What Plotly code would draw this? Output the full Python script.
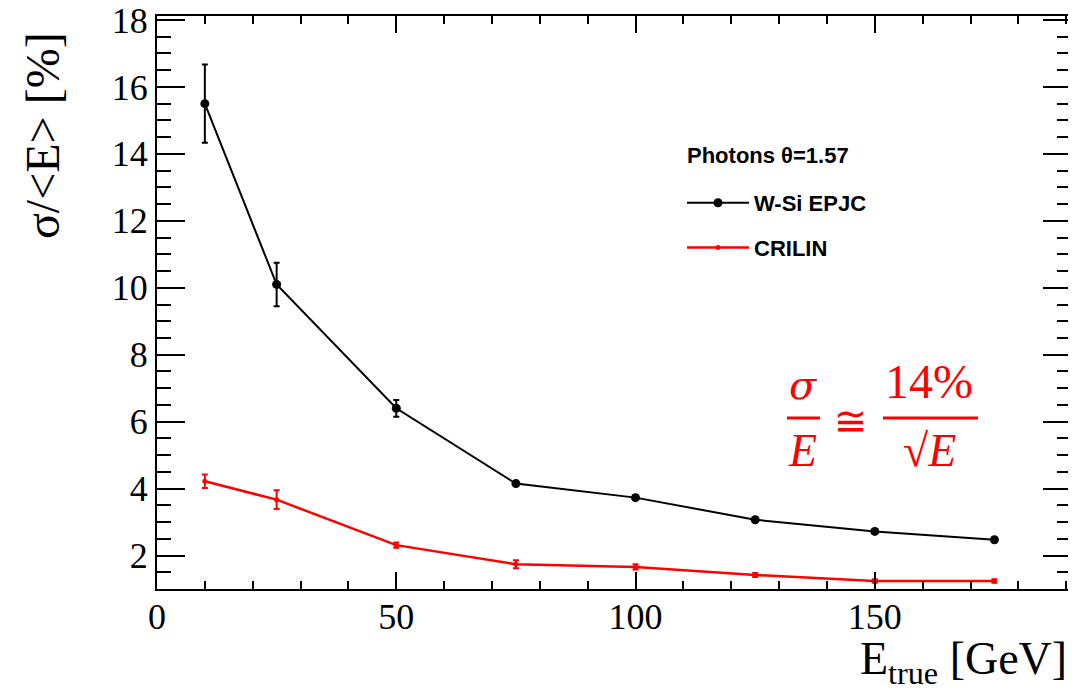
import plotly.graph_objects as go

# ---------------- data ----------------
energy = [10, 25, 50, 75, 100, 125, 150, 175]
wsi_res = [15.5, 10.1, 6.4, 4.15, 3.73, 3.07, 2.72, 2.47]
wsi_err = [1.17, 0.65, 0.25, 0.06, 0.06, 0.05, 0.05, 0.05]
crilin_res = [4.22, 3.67, 2.31, 1.74, 1.66, 1.42, 1.24, 1.24]
crilin_err = [0.20, 0.28, 0.08, 0.12, 0.08, 0.06, 0.05, 0.05]

x_tickvals = [0, 50, 100, 150]
y_tickvals = [2, 4, 6, 8, 10, 12, 14, 16, 18]

# page offset (browser body margin) compensation
OFF = 8
W, H = 1076 - OFF, 694 - OFF
# plot-area edges in page pixels
L, R, T, B = 157, 1071, 16, 589


def px(x):
    return (x - L) / (R - L)


def py(y):
    return (B - y) / (B - T)


fig = go.Figure()
fig.add_trace(go.Scatter(
    x=energy, y=wsi_res, mode="lines+markers", name="W-Si EPJC",
    legendgroup="a",
    line=dict(color="black", width=2),
    marker=dict(color="black", size=9),
    error_y=dict(type="data", array=wsi_err, color="black", thickness=2, width=3),
))
fig.add_trace(go.Scatter(
    x=energy, y=crilin_res, mode="lines+markers", name="CRILIN",
    legendgroup="b",
    line=dict(color="#ff0000", width=2.5),
    marker=dict(color="#ff0000", size=5),
    error_y=dict(type="data", array=crilin_err, color="#ff0000", thickness=2, width=3),
))

tickfont = dict(family="Liberation Serif", size=36, color="black")

fig.update_xaxes(
    range=[0, 191], tickvals=x_tickvals, ticktext=[str(v) for v in x_tickvals],
    ticks="inside", ticklen=17, tickwidth=2, tickcolor="black",
    minor=dict(dtick=10, tick0=0, ticks="inside", ticklen=8, tickwidth=2, tickcolor="black"),
    showline=True, linecolor="black", linewidth=2, mirror="allticks",
    showgrid=False, zeroline=False, tickfont=tickfont, automargin=False,
    ticklabelstandoff=-5, ticklabeloverflow="allow",
)
fig.update_yaxes(
    range=[1.0, 18.12], tickvals=y_tickvals, ticktext=[str(v) for v in y_tickvals],
    ticks="inside", ticklen=28, tickwidth=2, tickcolor="black",
    minor=dict(dtick=0.5, tick0=0, ticks="inside", ticklen=14, tickwidth=2, tickcolor="black"),
    showline=True, linecolor="black", linewidth=2, mirror="allticks",
    showgrid=False, zeroline=False, tickfont=tickfont, automargin=False,
    ticklabeloverflow="allow",
)

annotations = [
    # y axis title
    dict(text="σ/&lt;E&gt; [%]", x=px(42), y=py(136), xref="paper", yref="paper",
         textangle=-90, showarrow=False, xanchor="center", yanchor="middle",
         font=dict(family="Liberation Serif", size=48, color="black")),
    # x axis title
    dict(text="E<sub>true</sub> [GeV]", x=px(1069), y=py(662), xref="paper", yref="paper",
         showarrow=False, xanchor="right", yanchor="middle",
         font=dict(family="Liberation Serif", size=46, color="black")),
    # legend header
    dict(text="<b>Photons θ=1.57</b>", x=px(685), y=py(155), xref="paper", yref="paper",
         showarrow=False, xanchor="left", yanchor="middle",
         font=dict(family="Liberation Sans", size=22, color="black")),
    # formula
    dict(text="<i>σ</i>", x=px(803), y=py(385), xref="paper", yref="paper",
         showarrow=False, xanchor="center", yanchor="middle",
         font=dict(family="DejaVu Serif", size=40, color="#ff0000")),
    dict(text="<i>E</i>", x=px(802), y=py(450), xref="paper", yref="paper",
         showarrow=False, xanchor="center", yanchor="middle",
         font=dict(family="Liberation Serif", size=46, color="#ff0000")),
    dict(text="≅", x=px(851), y=py(421), xref="paper", yref="paper",
         showarrow=False, xanchor="center", yanchor="middle",
         font=dict(family="DejaVu Sans", size=40, color="#ff0000")),
    dict(text="14%", x=px(929), y=py(381), xref="paper", yref="paper",
         showarrow=False, xanchor="center", yanchor="middle",
         font=dict(family="Liberation Serif", size=48, color="#ff0000")),
    dict(text="√<i>E</i>", x=px(929), y=py(450), xref="paper", yref="paper",
         showarrow=False, xanchor="center", yanchor="middle",
         font=dict(family="Liberation Serif", size=46, color="#ff0000")),
]

shapes = [
    dict(type="line", xref="paper", yref="paper", x0=px(787), x1=px(820), y0=py(418), y1=py(418),
         line=dict(color="#ff0000", width=3)),
    dict(type="line", xref="paper", yref="paper", x0=px(883), x1=px(978), y0=py(418), y1=py(418),
         line=dict(color="#ff0000", width=3)),
]

fig.update_layout(
    width=W, height=H,
    margin=dict(l=L - OFF, r=(1076 - R), t=T - OFF, b=(694 - B), pad=0, autoexpand=False),
    paper_bgcolor="white", plot_bgcolor="white",
    showlegend=True,
    legend=dict(
        x=px(682), y=py(182), xanchor="left", yanchor="top",
        bgcolor="rgba(0,0,0,0)", borderwidth=0,
        font=dict(family="Liberation Sans", size=22, color="black", weight="bold"),
        tracegroupgap=13, itemwidth=62,
    ),
    annotations=annotations,
    shapes=shapes,
)

fig.write_html("out.html")
